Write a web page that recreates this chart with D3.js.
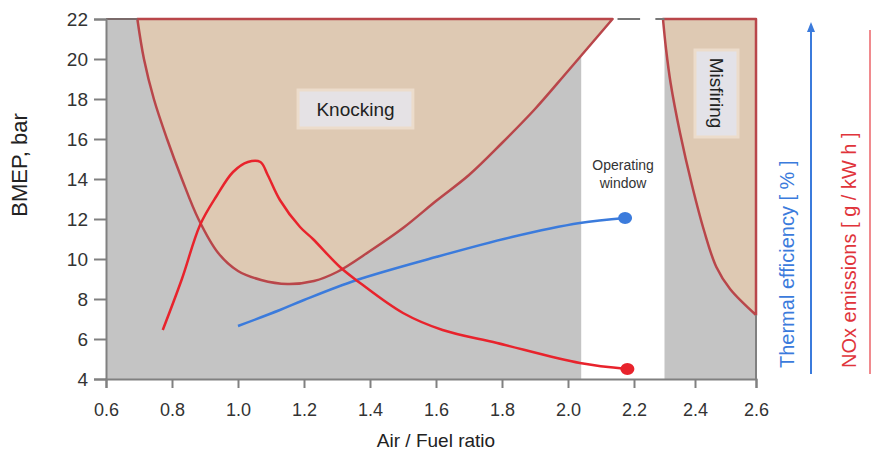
<!DOCTYPE html>
<html>
<head>
<meta charset="utf-8">
<script src="https://cdn.jsdelivr.net/npm/d3@7"></script>
<style>
  body { margin: 0; background: #fff; }
  text { font-family: "Liberation Sans", Arial, sans-serif; }
</style>
</head>
<body>
<div id="chart"></div>
<script>
var svgWidth = 871;
var svgHeight = 451;

// tick labels
var xTicks = [0.6, 0.8, 1.0, 1.2, 1.4, 1.6, 1.8, 2.0, 2.2, 2.4, 2.6];
var yTicks = [4, 6, 8, 10, 12, 14, 16, 18, 20, 22];

// operating window (white strip) limits, air/fuel ratio
var windowRange = [2.04, 2.3];

// knocking limit boundary [lambda, bmep]
var knockingBoundary = [
    [0.695, 22], [0.715, 20], [0.745, 18], [0.785, 16], [0.83, 14],
    [0.88, 12], [0.94, 10.3], [1.0, 9.4], [1.07, 8.95], [1.15, 8.75],
    [1.23, 8.9], [1.3, 9.35], [1.4, 10.4], [1.5, 11.55], [1.6, 12.9],
    [1.7, 14.2], [1.8, 15.8], [1.9, 17.5], [2.0, 19.4], [2.135, 22]
];

// misfiring limit boundary
var misfiringBoundary = [
    [2.295, 22], [2.305, 20.5], [2.32, 18.8], [2.351, 16.3], [2.39, 13.7],
    [2.43, 11.4], [2.47, 9.6], [2.515, 8.5], [2.6, 7.2]
];

// thermal efficiency trend (drawn on bmep scale)
var efficiency = [
    [1.0, 6.65], [1.127, 7.45], [1.2, 7.95], [1.36, 8.95], [1.6, 10.1],
    [1.83, 11.1], [2.036, 11.8], [2.173, 12.05]
];

// NOx emissions trend
var nox = [
    [0.772, 6.45], [0.83, 9.0], [0.885, 11.7], [0.935, 13.15], [0.985, 14.35],
    [1.03, 14.85], [1.068, 14.85], [1.09, 14.2], [1.127, 12.95], [1.188, 11.6],
    [1.227, 11.0], [1.309, 9.6], [1.37, 8.8], [1.5, 7.3], [1.62, 6.45],
    [1.785, 5.8], [2.036, 4.8], [2.18, 4.5]
];

var gray = "#c4c4c4";
var tan = "#dec9b3";
var limitRed = "#b9464a";
var noxRed = "#e8232c";
var blue = "#3b7bdc";

var svg = d3.select("#chart")
    .append("svg")
    .attr("width", svgWidth)
    .attr("height", svgHeight);

var xScale = d3.scaleLinear()
    .domain([0.6, 2.2, 2.6])
    .range([106, 634, 756]);
var yScale = d3.scaleLinear()
    .domain([4, 22])
    .range([379, 19]);

// background regions
svg.append("rect")
    .attr("x", xScale(0.6))
    .attr("y", yScale(22))
    .attr("width", xScale(windowRange[0]) - xScale(0.6))
    .attr("height", yScale(4) - yScale(22))
    .attr("fill", gray);

svg.append("rect")
    .attr("x", xScale(windowRange[1]))
    .attr("y", yScale(22))
    .attr("width", xScale(2.6) - xScale(windowRange[1]))
    .attr("height", yScale(4) - yScale(22))
    .attr("fill", gray);

var area = d3.line()
    .x(d => xScale(d[0]))
    .y(d => yScale(d[1]))
    .curve(d3.curveCatmullRom.alpha(0.5));

// knocking region
svg.append("path")
    .attr("d", area(knockingBoundary) + "Z")
    .attr("fill", tan)
    .attr("stroke", limitRed)
    .attr("stroke-width", 2.5)
    .attr("stroke-linejoin", "round");

// misfiring region
svg.append("path")
    .attr("d", area(misfiringBoundary) + "L" + xScale(2.6) + "," + yScale(22) + "Z")
    .attr("fill", tan)
    .attr("stroke", limitRed)
    .attr("stroke-width", 2.5)
    .attr("stroke-linejoin", "round");

// plot frame top and right
svg.append("line")
    .attr("x1", xScale(0.6)).attr("x2", xScale(0.695))
    .attr("y1", yScale(22)).attr("y2", yScale(22))
    .attr("stroke", "#7a6a6a").attr("stroke-width", 2);
svg.append("line")
    .attr("x1", xScale(2.15)).attr("x2", xScale(2.22))
    .attr("y1", yScale(22)).attr("y2", yScale(22))
    .attr("stroke", "#777").attr("stroke-width", 2);
svg.append("line")
    .attr("x1", xScale(2.27)).attr("x2", xScale(2.3))
    .attr("y1", yScale(22)).attr("y2", yScale(22))
    .attr("stroke", "#777").attr("stroke-width", 2);
svg.append("line")
    .attr("x1", xScale(2.6)).attr("x2", xScale(2.6))
    .attr("y1", yScale(7.2)).attr("y2", yScale(4))
    .attr("stroke", "#808080").attr("stroke-width", 2);

// region labels
svg.append("rect")
    .attr("x", xScale(1.182))
    .attr("y", yScale(18.45))
    .attr("width", xScale(1.53) - xScale(1.182))
    .attr("height", yScale(16.55) - yScale(18.45))
    .attr("fill", "#e5e2e5")
    .attr("stroke", "#ecdccb")
    .attr("stroke-width", 3);
svg.append("text")
    .attr("x", (xScale(1.182) + xScale(1.53)) / 2)
    .attr("y", yScale(17.5))
    .attr("dy", "0.35em")
    .attr("text-anchor", "middle")
    .attr("font-size", 19)
    .attr("fill", "#222")
    .text("Knocking");

svg.append("rect")
    .attr("x", xScale(2.40))
    .attr("y", yScale(20.45))
    .attr("width", xScale(2.541) - xScale(2.40))
    .attr("height", yScale(16.1) - yScale(20.45))
    .attr("fill", "#e3e2e8")
    .attr("stroke", "#ecdccb")
    .attr("stroke-width", 3);
svg.append("text")
    .attr("transform", `translate(${(xScale(2.40) + xScale(2.541)) / 2}, ${yScale(18.3)}) rotate(90)`)
    .attr("dy", "0.35em")
    .attr("text-anchor", "middle")
    .attr("font-size", 19)
    .attr("fill", "#222")
    .text("Misfiring");

svg.append("text")
    .attr("x", xScale(2.167))
    .attr("y", yScale(14.7))
    .attr("dy", "0.35em")
    .attr("text-anchor", "middle")
    .attr("font-size", 14)
    .attr("fill", "#333")
    .text("Operating");
svg.append("text")
    .attr("x", xScale(2.167))
    .attr("y", yScale(13.8))
    .attr("dy", "0.35em")
    .attr("text-anchor", "middle")
    .attr("font-size", 14)
    .attr("fill", "#333")
    .text("window");

// trend lines
var trend = d3.line()
    .x(d => xScale(d[0]))
    .y(d => yScale(d[1]))
    .curve(d3.curveCatmullRom.alpha(0.5));

svg.append("path")
    .attr("d", trend(efficiency))
    .attr("fill", "none")
    .attr("stroke", blue)
    .attr("stroke-width", 2.5);

svg.append("path")
    .attr("d", trend(nox))
    .attr("fill", "none")
    .attr("stroke", noxRed)
    .attr("stroke-width", 2.5);

var lastEff = efficiency[efficiency.length - 1];
var lastNox = nox[nox.length - 1];
svg.append("ellipse")
    .attr("cx", xScale(lastEff[0])).attr("cy", yScale(lastEff[1]))
    .attr("rx", 7).attr("ry", 6)
    .attr("fill", blue);
svg.append("ellipse")
    .attr("cx", xScale(lastNox[0])).attr("cy", yScale(lastNox[1]))
    .attr("rx", 7).attr("ry", 6)
    .attr("fill", noxRed);

// axes
var bottomAxis = d3.axisBottom(xScale)
    .tickValues(xTicks)
    .tickFormat(d3.format(".1f"))
    .tickSizeOuter(0)
    .tickSize(9)
    .tickPadding(15);
var leftAxis = d3.axisLeft(yScale)
    .tickValues(yTicks)
    .tickSizeOuter(0)
    .tickSize(12)
    .tickPadding(6);

var xAxisG = svg.append("g")
    .attr("transform", `translate(0, ${yScale(4)})`)
    .call(bottomAxis);
var yAxisG = svg.append("g")
    .attr("transform", `translate(${xScale(0.6)}, 0)`)
    .call(leftAxis);

[xAxisG, yAxisG].forEach(function (g) {
    g.select(".domain").attr("stroke", "#808080").attr("stroke-width", 2);
    g.selectAll(".tick line").attr("stroke", "#808080").attr("stroke-width", 2);
    g.selectAll(".tick text").attr("fill", "#333").attr("font-family", "Liberation Sans, Arial, sans-serif");
});
xAxisG.selectAll(".tick text").attr("font-size", 18);
yAxisG.selectAll(".tick text").attr("font-size", 19);

// axis titles
svg.append("text")
    .attr("x", xScale(1.6))
    .attr("y", 447)
    .attr("text-anchor", "middle")
    .attr("font-size", 19)
    .attr("fill", "#222")
    .text("Air / Fuel ratio");

svg.append("text")
    .attr("transform", "translate(27, 165) rotate(-90)")
    .attr("text-anchor", "middle")
    .attr("font-size", 22)
    .attr("fill", "#222")
    .text("BMEP, bar");

// right side indicator arrows and titles
svg.append("line")
    .attr("x1", 811).attr("x2", 811)
    .attr("y1", 374).attr("y2", 30)
    .attr("stroke", blue).attr("stroke-width", 2);
svg.append("path")
    .attr("d", "M811,22L807,32L815,32Z")
    .attr("fill", blue);
svg.append("text")
    .attr("transform", "translate(794, 368) rotate(-90)")
    .attr("font-size", 20)
    .attr("fill", blue)
    .text("Thermal efficiency [ % ]");

svg.append("line")
    .attr("x1", 870).attr("x2", 870)
    .attr("y1", 374).attr("y2", 30)
    .attr("stroke", "#f08a8e").attr("stroke-width", 2);
svg.append("text")
    .attr("transform", "translate(856, 368) rotate(-90)")
    .attr("font-size", 20)
    .attr("fill", "#e0343b")
    .text("NOx emissions [ g / kW h ]");
</script>
</body>
</html>
